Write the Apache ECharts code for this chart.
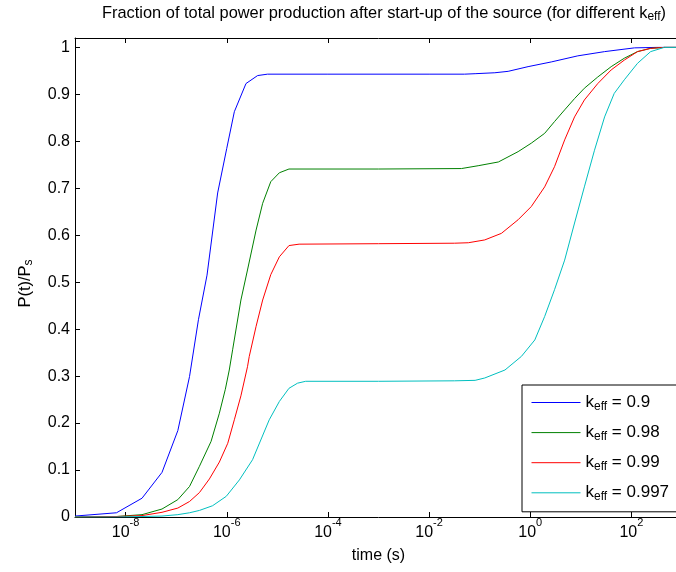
<!DOCTYPE html>
<html><head><meta charset="utf-8">
<script src="https://cdn.jsdelivr.net/npm/echarts/dist/echarts.min.js"></script>
<style>html,body{margin:0;padding:0;background:#fff;overflow:hidden}#c{width:685px;height:572px}</style>
</head><body><div id="c"></div>
<script>
// Series labels (k_eff) and colours
const keffLabels = ['0.9', '0.98', '0.99', '0.997'];
const seriesColors = ['#0000ff', '#008000', '#ff0000', '#00bfbf'];

// x tick labels: exponents of 10 that are labelled (time in s)
const xTickExps = [-8, -6, -4, -2, 0, 2];
// y tick labels
const yTickLabels = ['0', '0.1', '0.2', '0.3', '0.4', '0.5', '0.6', '0.7', '0.8', '0.9', '1'];

// Curves: log10(time / s) and P(t)/Ps
const logT_09 = [-9, -8.18, -7.675, -7.28, -6.967, -6.736, -6.56, -6.39, -6.18, -6.0, -5.85, -5.62, -5.39, -5.195, -4, -2, -1.3, -1.09, -0.7, -0.437, -0.043, 0.415, 0.94, 1.47, 2.06, 2.5, 3];
const P_09    = [0.002, 0.009, 0.040, 0.095, 0.184, 0.299, 0.42, 0.515, 0.69, 0.785, 0.863, 0.923, 0.940, 0.943, 0.943, 0.943, 0.943, 0.944, 0.946, 0.949, 0.959, 0.969, 0.982, 0.991, 0.999, 1.0, 1.0];

const logT_098 = [-9, -8.18, -7.675, -7.28, -6.967, -6.736, -6.54, -6.31, -6.146, -6.028, -5.95, -5.884, -5.72, -5.59, -5.42, -5.29, -5.13, -4.96, -4.77, -3, -1.36, -1.03, -0.63, -0.24, 0.02, 0.285, 0.48, 0.68, 0.876, 1.07, 1.335, 1.6, 1.86, 2.12, 2.38, 2.65, 3];
const P_098    = [0.0, 0.001, 0.005, 0.017, 0.037, 0.065, 0.108, 0.161, 0.221, 0.272, 0.313, 0.356, 0.462, 0.526, 0.611, 0.668, 0.714, 0.733, 0.741, 0.741, 0.742, 0.748, 0.756, 0.778, 0.796, 0.817, 0.842, 0.867, 0.891, 0.913, 0.937, 0.959, 0.977, 0.991, 0.998, 1.0, 1.0];

const logT_099 = [-9, -8.18, -7.675, -7.28, -6.967, -6.736, -6.54, -6.343, -6.146, -5.98, -5.85, -5.72, -5.59, -5.555, -5.42, -5.29, -5.13, -4.96, -4.77, -4.57, -3, -1.5, -1.224, -0.9, -0.57, -0.24, 0.02, 0.285, 0.48, 0.68, 0.876, 1.07, 1.335, 1.6, 1.86, 2.12, 2.38, 2.65, 3];
const P_099    = [0.0, 0.001, 0.003, 0.010, 0.019, 0.033, 0.052, 0.081, 0.117, 0.157, 0.207, 0.258, 0.32, 0.342, 0.406, 0.462, 0.516, 0.554, 0.578, 0.581, 0.582, 0.583, 0.584, 0.590, 0.604, 0.633, 0.661, 0.703, 0.746, 0.803, 0.852, 0.888, 0.923, 0.952, 0.973, 0.991, 0.998, 1.0, 1.0];

const logT_0997 = [-9, -8.18, -7.675, -7.28, -6.967, -6.736, -6.54, -6.28, -6.01, -5.75, -5.49, -5.16, -4.96, -4.77, -4.6, -4.44, -3, -1.5, -1.09, -0.9, -0.5, -0.175, 0.09, 0.285, 0.48, 0.68, 0.876, 1.07, 1.27, 1.47, 1.66, 1.86, 2.12, 2.38, 2.65, 3];
const P_0997    = [0.0, 0.0, 0.001, 0.002, 0.005, 0.009, 0.014, 0.024, 0.044, 0.079, 0.122, 0.207, 0.246, 0.274, 0.285, 0.289, 0.289, 0.290, 0.291, 0.296, 0.313, 0.342, 0.377, 0.427, 0.484, 0.547, 0.626, 0.703, 0.781, 0.852, 0.902, 0.931, 0.966, 0.991, 1.0, 1.0];

const allLogT = [logT_09, logT_098, logT_099, logT_0997];
const allP = [P_09, P_098, P_099, P_0997];

const FONT = '"Liberation Sans", Arial, Helvetica, sans-serif';
const chart = echarts.init(document.getElementById('c'), null, {renderer: 'canvas'});

const seriesNames = keffLabels.map(k => 'k_eff = ' + k);

const tickFont = 16;
const xLabelRich = {
  b: {fontSize: tickFont, fontFamily: FONT, color: '#000', verticalAlign: 'top', padding: [8, 0, 0, 0]},
  s: {fontSize: 11, fontFamily: FONT, color: '#000', verticalAlign: 'top', padding: [0, 0, 0, 0]}
};

const option = {
  animation: false,
  backgroundColor: '#fff',
  grid: {left: 75, right: 1, top: 38, bottom: 55, containLabel: false},
  graphic: [{
    type: 'text', x: 384, y: 13, z: 10,
    style: {
      text: 'Fraction of total power production after start-up of the source (for different k{s|eff})',
      fontSize: 16.4, fontFamily: FONT, fill: '#000', textAlign: 'center', textVerticalAlign: 'middle',
      rich: {s: {fontSize: 12, fontFamily: FONT, fill: '#000', padding: [8, 0, 0, 0]}}
    }
  }],
  legend: {
    orient: 'vertical', left: 522, top: 385,
    itemWidth: 49, itemHeight: 14, itemGap: 11.6,
    padding: [9, 20, 9, 9],
    itemStyle: {opacity: 0, borderWidth: 0},
    lineStyle: {width: 1},
    borderColor: '#000', borderWidth: 1, borderRadius: 0, backgroundColor: '#fff',
    data: seriesNames,
    formatter: name => 'k{s|eff} = ' + name.split('= ')[1],
    textStyle: {fontSize: 17, fontFamily: FONT, color: '#000',
      rich: {s: {fontSize: 12, fontFamily: FONT, color: '#000', padding: [8, 0, 0, 0]}}}
  },
  xAxis: [{
    type: 'value', min: -9, max: 3, splitNumber: 6, position: 'bottom',
    name: 'time (s)', nameLocation: 'middle', nameGap: 31,
    nameTextStyle: {fontSize: 16, fontFamily: FONT, color: '#000', verticalAlign: 'top'},
    axisLine: {show: true, onZero: false, lineStyle: {color: '#000', width: 1}},
    axisTick: {show: true, inside: true, length: 5, lineStyle: {color: '#000', width: 1}},
    splitLine: {show: false},
    axisLabel: {
      margin: 0, color: '#000', fontFamily: FONT, fontSize: tickFont,
      formatter: v => xTickExps.indexOf(Math.round(v * 1000) / 1000) >= 0 ? '{b|10}{s|' + v + '}' : '',
      rich: xLabelRich
    }
  }, {
    type: 'value', min: -9, max: 3, splitNumber: 6, position: 'top',
    axisLine: {show: true, onZero: false, lineStyle: {color: '#000', width: 1}},
    axisTick: {show: true, inside: true, length: 5, lineStyle: {color: '#000', width: 1}},
    splitLine: {show: false},
    axisLabel: {show: false}
  }],
  yAxis: [{
    type: 'value', min: 0, max: 1.02, interval: 0.1,
    name: 'P(t)/P{s|s}', nameLocation: 'middle', nameGap: 40, nameRotate: 90,
    nameTextStyle: {fontSize: 16.5, fontFamily: FONT, color: '#000', padding: [0, 12, 0, 0],
      rich: {s: {fontSize: 12, fontFamily: FONT, color: '#000', padding: [8, 0, 0, 0]}}},
    axisLine: {show: true, onZero: false, lineStyle: {color: '#000', width: 1}},
    axisTick: {show: true, inside: true, length: 5, lineStyle: {color: '#000', width: 1}},
    splitLine: {show: false},
    axisLabel: {
      margin: 5, color: '#000', fontFamily: FONT, fontSize: tickFont,
      formatter: v => {
        const i = Math.round(v * 10);
        return (Math.abs(v * 10 - i) < 1e-6 && i >= 0 && i < yTickLabels.length) ? yTickLabels[i] : '';
      }
    }
  }, {
    type: 'value', min: 0, max: 1.02, interval: 0.1, position: 'right',
    axisLine: {show: true, onZero: false, lineStyle: {color: '#000', width: 1}},
    axisTick: {show: true, inside: true, length: 5, lineStyle: {color: '#000', width: 1}},
    splitLine: {show: false},
    axisLabel: {show: false}
  }],
  series: seriesNames.map((name, i) => ({
    name: name, type: 'line', xAxisIndex: 0, yAxisIndex: 0,
    symbol: 'none', showSymbol: false, smooth: false,
    lineStyle: {color: seriesColors[i], width: 1},
    itemStyle: {color: seriesColors[i]},
    emphasis: {disabled: true},
    data: allLogT[i].map((x, j) => [x, allP[i][j]])
  }))
};
chart.setOption(option);
</script>
</body></html>
